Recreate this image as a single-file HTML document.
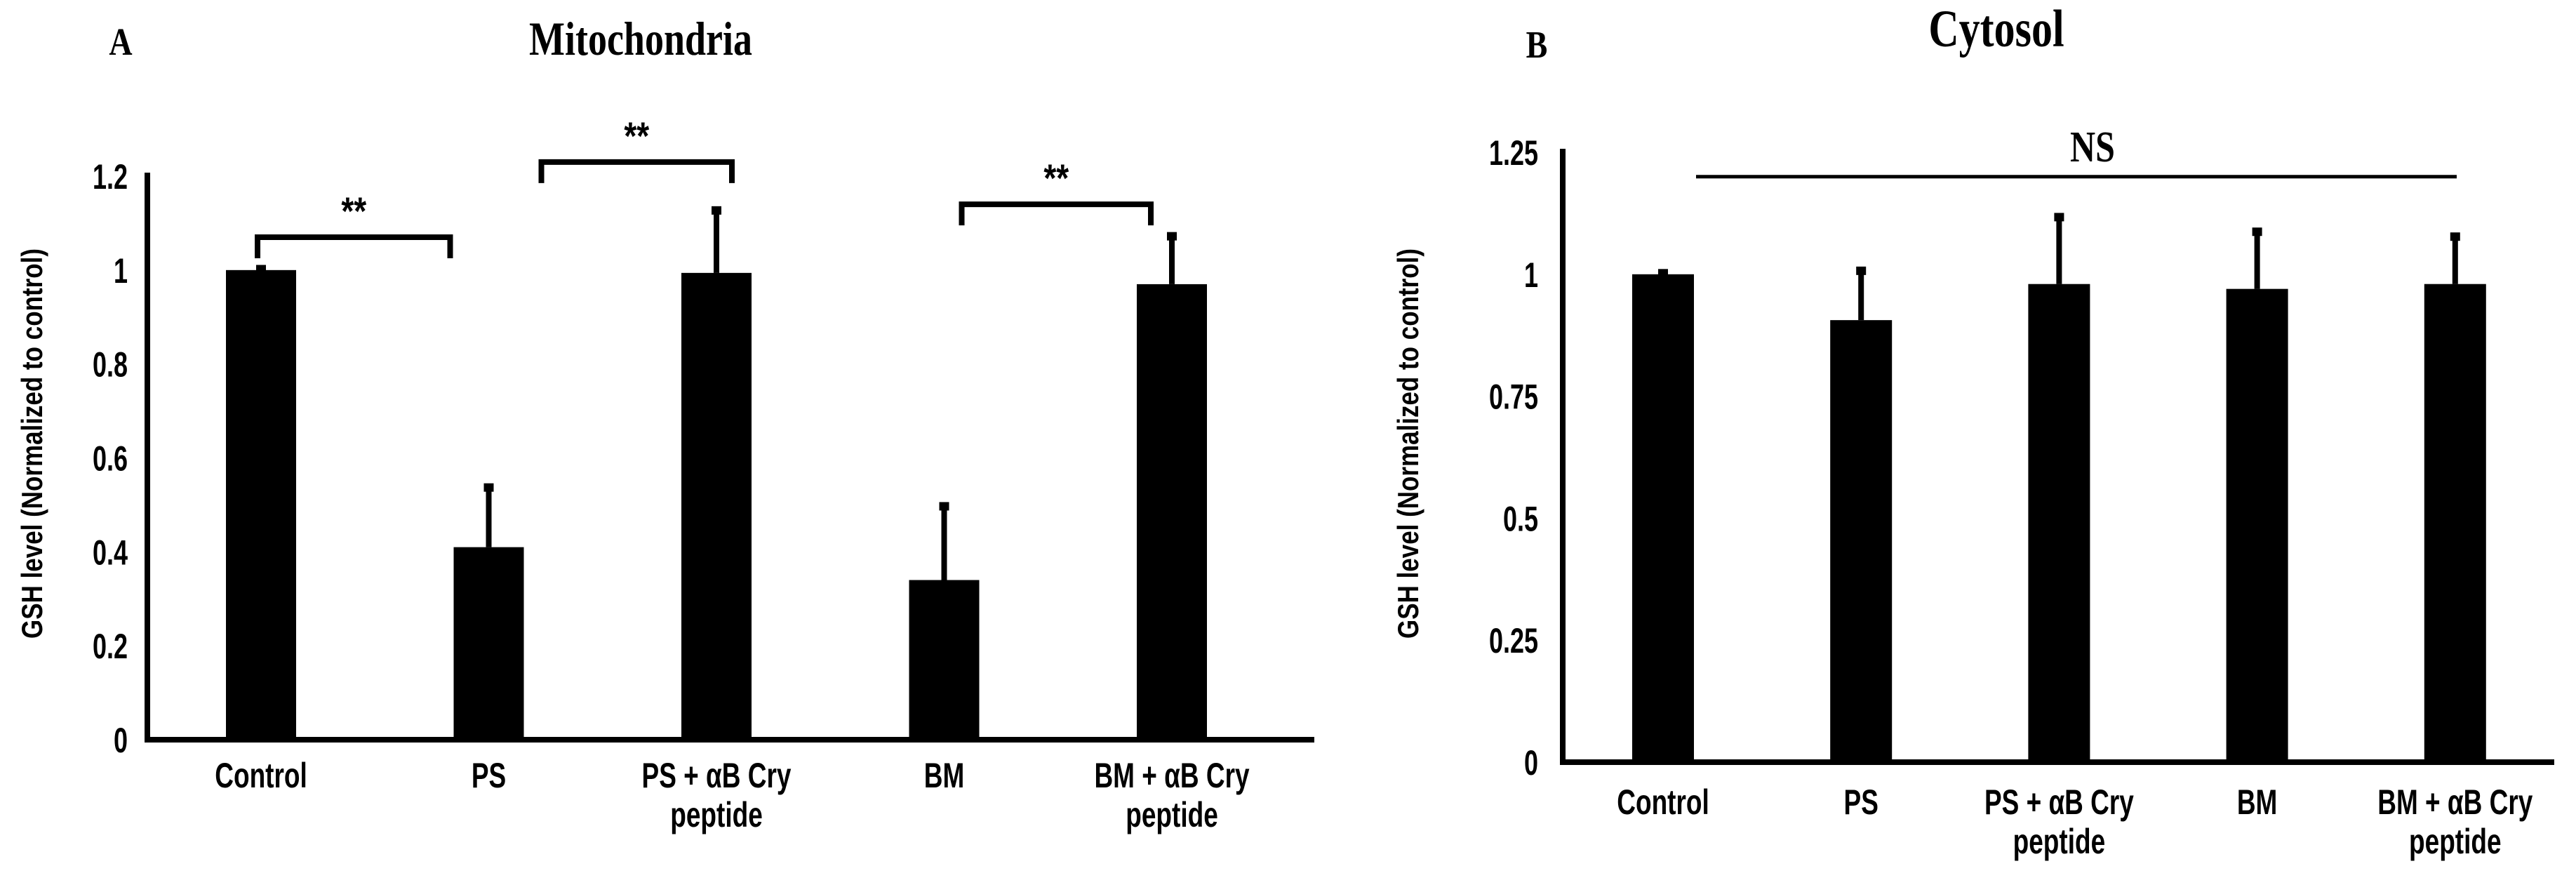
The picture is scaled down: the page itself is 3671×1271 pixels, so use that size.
<!DOCTYPE html>
<html><head><meta charset="utf-8"><style>
html,body{margin:0;padding:0;background:#fff;}
svg{display:block;}
text{font-family:"Liberation Sans",sans-serif;font-weight:bold;fill:#000;}
.serif{font-family:"Liberation Serif",serif;}
</style></head><body>
<svg id="chart" width="3671" height="1271" viewBox="0 0 3671 1271" xmlns="http://www.w3.org/2000/svg"></svg>
<script>
const categoriesA = ["Control","PS","PS + \u03b1B Cry|peptide","BM","BM + \u03b1B Cry|peptide"];
const valuesA = [1.0, 0.41, 0.994, 0.34, 0.97];
const errorsA = [0.005, 0.13, 0.136, 0.16, 0.105];
const ticksA = [0, 0.2, 0.4, 0.6, 0.8, 1, 1.2];
const tickLabelsA = ["0","0.2","0.4","0.6","0.8","1","1.2"];
const categoriesB = ["Control","PS","PS + \u03b1B Cry|peptide","BM","BM + \u03b1B Cry|peptide"];
const valuesB = [1.0, 0.906, 0.98, 0.97, 0.98];
const errorsB = [0.005, 0.104, 0.14, 0.12, 0.10];
const ticksB = [0, 0.25, 0.5, 0.75, 1, 1.25];
const tickLabelsB = ["0","0.25","0.5","0.75","1","1.25"];

const NS = "http://www.w3.org/2000/svg";
const svg = document.getElementById("chart");
function mk(tag, attrs, parent){
  const e = document.createElementNS(NS, tag);
  for (const k in attrs) e.setAttribute(k, attrs[k]);
  (parent||svg).appendChild(e);
  return e;
}
function txt(parent, x, y, s, size, anchor, sy, cls){
  const t = mk("text", {x:0, y:0, "text-anchor":anchor, "font-size":size, transform:`translate(${x},${y}) scale(1,${sy})`}, parent);
  if (cls) t.setAttribute("class", cls);
  t.textContent = s;
  return t;
}
function drawPanel(p){
  const g = mk("g", {});
  
  
  const y = v => p.y0 - (p.y0 - p.yTop) * v / p.vmax;
  const x = i => p.xFirst + i * p.step;
  const t = txt(g, p.titleX, p.titleY, p.title, p.titleSize, "middle", 1.25, "serif");
  
  
  const l = txt(g, p.letterX, p.letterY, p.letter, 46, "middle", 1.2, "serif");
  
  
  p.vals.forEach((v,i)=>{
    const b = mk("rect", {x:x(i)-p.bw/2, y:y(v), width:p.bw, height:p.y0-y(v), fill:"#000"}, g);
    
    
    const top = y(v + p.errs[i]);
    const e = mk("line", {x1:x(i), x2:x(i), y1:y(v), y2:top, stroke:"#000", "stroke-width":8}, g);
    
    
    const c = mk("rect", {x:x(i)-7, y:top-4, width:14, height:12, fill:"#000"}, g);
    
    
    const parts = p.cats[i].split("|");
    parts.forEach((s,j)=>{
      const ct = txt(g, x(i), p.catY + j*56, s, 37, "middle", 1.35);
      
      
    });
  });
  const ya = mk("line", {x1:p.ax, x2:p.ax, y1:p.yTop-5, y2:p.y0+4, stroke:"#000", "stroke-width":8}, g);
  
  
  const xa = mk("line", {x1:p.ax-4, x2:p.axEnd, y1:p.y0, y2:p.y0, stroke:"#000", "stroke-width":8}, g);
  
  
  p.ticks.forEach((v,i)=>{
    const tt = txt(g, p.tickX, y(v)+18, p.tickLabels[i], 36, "end", 1.4);
    
    
  });
  const yt = mk("text", {x:0, y:0, "text-anchor":"middle", "font-size":35, transform:`translate(${p.ytX},${p.ytY}) rotate(-90) scale(1,1.2)`}, g);
  yt.textContent = "GSH level (Normalized to control)";
  
  
  return {g, x, y};
}
const A = drawPanel({name:"panel-mitochondria", title:"Mitochondria", titleX:913, titleY:78, titleSize:54, letter:"A", letterX:172, letterY:78,
  vals:valuesA, errs:errorsA, cats:categoriesA, ticks:ticksA, tickLabels:tickLabelsA, vmax:1.2,
  y0:1054, yTop:251, xFirst:372, step:324.5, bw:100, ax:210, axEnd:1873, tickX:182, catY:1122, ytX:60, ytY:632});
const B = drawPanel({name:"panel-cytosol", title:"Cytosol", titleX:2845, titleY:66, titleSize:60, letter:"B", letterX:2190, letterY:82,
  vals:valuesB, errs:errorsB, cats:categoriesB, ticks:ticksB, tickLabels:tickLabelsB, vmax:1.25,
  y0:1086, yTop:217, xFirst:2370, step:282.2, bw:88, ax:2227, axEnd:3640, tickX:2192, catY:1160, ytX:2021, ytY:632});
const bracketsA = [[0,1,1.07],[1,2,1.23],[3,4,1.14]];
bracketsA.forEach((br,i)=>{
  const xs = [A.x(br[0]), A.x(br[1])];
  const xa = i===1 ? xs[0]+75 : (i===2 ? xs[0]+25 : xs[0]-5);
  const xb = i===1 ? xs[1]+22 : (i===2 ? xs[1]-30 : xs[1]-55);
  const yy = A.y(br[2]);
  const p = mk("path", {d:`M${xa},${yy+30} V${yy} H${xb} V${yy+30}`, fill:"none", stroke:"#000", "stroke-width":8}, A.g);
  
  
  const s = txt(A.g, (xa+xb)/2, yy-18, "**", 46, "middle", 1.2);
  
  
});
const nsY = B.y(1.2);
const nl = mk("line", {x1:2417, x2:3501, y1:nsY, y2:nsY, stroke:"#000", "stroke-width":5}, B.g);


const nt = txt(B.g, 2982, nsY-22, "NS", 50, "middle", 1.25, "serif");


</script>
</body></html>
